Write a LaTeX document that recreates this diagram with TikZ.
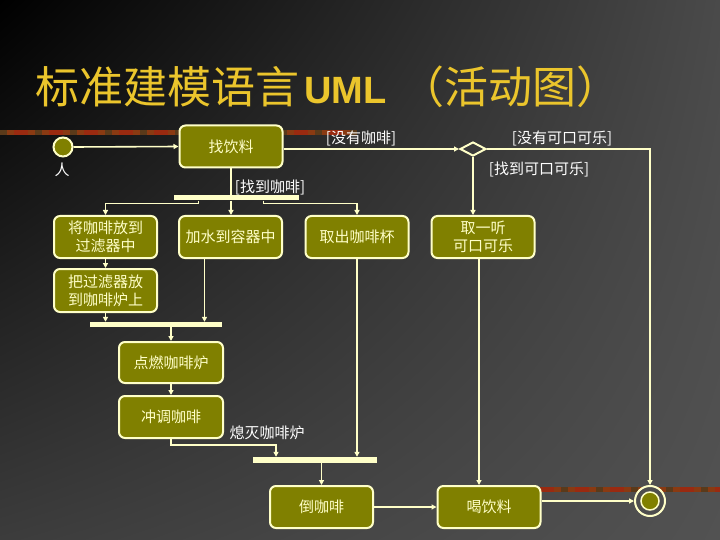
\documentclass[tikz,border=0pt]{standalone}
\usepackage{fontspec}
\setmainfont{Liberation Sans}
\newfontfamily\cjk{Noto Sans CJK SC}
\usetikzlibrary{arrows.meta,shapes.geometric,shadings}
\definecolor{cream}{HTML}{FFFFC8}
\definecolor{olivef}{HTML}{808000}
\definecolor{titlec}{HTML}{EBC52C}
\definecolor{bgul}{HTML}{000000}
\definecolor{bgur}{HTML}{4A4A4A}
\definecolor{bgll}{HTML}{3C3C3C}
\definecolor{bglr}{HTML}{525252}
\definecolor{bgmid}{HTML}{4E4E4E}
\definecolor{bgdia}{HTML}{3A3A3A}
\definecolor{bar0}{HTML}{8A3A12}
\definecolor{bar1}{HTML}{B06A20}
\definecolor{bar2}{HTML}{6A6A28}
\definecolor{bar3}{HTML}{9A2A10}
\definecolor{bar4}{HTML}{5A3A1A}
\begin{document}
\begin{tikzpicture}[x=1pt,y=-1pt,
  act/.style={draw=cream, line width=2pt, fill=olivef, rounded corners=6pt, text=cream,
    font=\cjk\fontsize{15}{18}\selectfont, align=center, minimum width=103pt,
    minimum height=42pt, inner sep=0pt},
  lbl/.style={text=white, font=\cjk\fontsize{15}{18}\selectfont, inner sep=0pt},
  conn/.style={draw=cream, line width=1.6pt},
  arr/.style={conn, -{Triangle[length=5pt,width=5pt]}},
  barnode/.style={fill=cream, draw=none, inner sep=0pt, minimum height=5pt},
]
\useasboundingbox (0,0) rectangle (720,540);
\shade[upper left=bgul, upper right=bgur, lower left=bgll, lower right=bglr] (0,0) rectangle (720,540);

% decorative bars
\foreach \x [count=\i] in {0,7,...,350}{
  \pgfmathtruncatemacro\c{mod(\i*\i+3*\i,5)}
  \fill[bar\c] (\x,130.5) rectangle ++(7,4.5);
}
\foreach \x [count=\i] in {540,547,...,715}{
  \pgfmathtruncatemacro\c{mod(\i*\i+2*\i,5)}
  \fill[bar\c] (\x,487) rectangle ++(7,4.5);
}

% title
\node[anchor=base west, inner sep=0pt, text=titlec] (title) at (35,104)
  {\cjk\fontsize{44}{48}\selectfont 标准建模语言\hspace{5pt}{\rmfamily\bfseries\fontsize{38}{44}\selectfont UML}\hspace{14pt}（活动图）};

% nodes
\node[circle, draw=cream, line width=2pt, fill=olivef, minimum size=19pt, inner sep=0pt] (start) at (63,147) {};
\node[lbl] (ren) at (62,170) {人};
\node[act] (f) at (231,146.5) {找饮料};
\node[diamond, draw=cream, line width=2pt, fill=bgdia, minimum width=26pt, minimum height=14pt, inner sep=0pt] (d) at (473,149) {};

\node[lbl] (l1) at (361,138) {[没有咖啡]};
\node[lbl] (l2) at (562,138) {[没有可口可乐]};
\node[lbl] (l3) at (539,169) {[找到可口可乐]};
\node[lbl] (l4) at (270,187) {[找到咖啡]};
\node[lbl] (l5) at (267,433) {熄灭咖啡炉};

\node[barnode, minimum width=125pt] (fk1) at (236.5,198) {};
\node[act] (a1) at (105.5,237) {将咖啡放到\\过滤器中};
\node[act] (a2) at (230.5,237) {加水到容器中};
\node[act] (a3) at (357,237) {取出咖啡杯};
\node[act] (a4) at (483,237) {取一听\\可口可乐};
\node[act, minimum height=43pt] (a5) at (105.5,290.5) {把过滤器放\\到咖啡炉上};
\node[barnode, minimum width=132pt] (jn1) at (156,324.5) {};
\node[act, minimum width=104pt, minimum height=41pt] (a6) at (171,362.5) {点燃咖啡炉};
\node[act, minimum width=104pt] (a7) at (171,417) {冲调咖啡};
\node[barnode, minimum width=124pt, minimum height=6pt] (jn2) at (315,460) {};
\node[act] (a8) at (321.5,507) {倒咖啡};
\node[act] (a9) at (489,507) {喝饮料};
\node[circle, draw=cream, line width=2pt, fill=bgmid, minimum size=30pt, inner sep=0pt] (fin) at (650,501) {};
\node[circle, draw=cream, line width=1.5pt, fill=olivef, minimum size=18pt, inner sep=0pt] (fini) at (fin) {};

% connectors
\draw[arr] (start.east) -- (f.west);
\draw[arr] (d.west -| f.east) -- (d.west);
\draw[arr] (d.east) -| (fin.north);
\draw[arr] (d.south) -- (d.south |- a4.north);
\draw[conn] (f.south) -- (f.south |- fk1.north);
\draw[arr] (f.south |- fk1.south) -- (f.south |- a2.north);
\draw[arr] ([xshift=-38pt]fk1.south) -- ++(0,3) -| (a1.north);
\draw[arr] ([xshift=27pt]fk1.south) -- ++(0,3) -| (a3.north);
\draw[arr] (a1.south) -- (a5.north);
\draw[arr] (a5.south) -- (a5.south |- jn1.north);
\draw[arr] ([xshift=-26pt]a2.south) -- ([xshift=-26pt]a2.south |- jn1.north);
\draw[arr] (a6.north |- jn1.south) -- (a6.north);
\draw[arr] (a6.south) -- (a7.north);
\draw[arr] (a7.south) -- ++(0,6) -| ([xshift=-39pt]jn2.north);
\draw[arr] (a3.south) -- (a3.south |- jn2.north);
\draw[arr] (a8.north |- jn2.south) -- (a8.north);
\draw[arr] ([xshift=-4pt]a4.south) -- ([xshift=-4pt]a4.south |- a9.north);
\draw[arr] (a8.east) -- (a9.west);
\draw[arr] (a9.east |- fin.west) -- (fin.west);
\end{tikzpicture}
\end{document}
